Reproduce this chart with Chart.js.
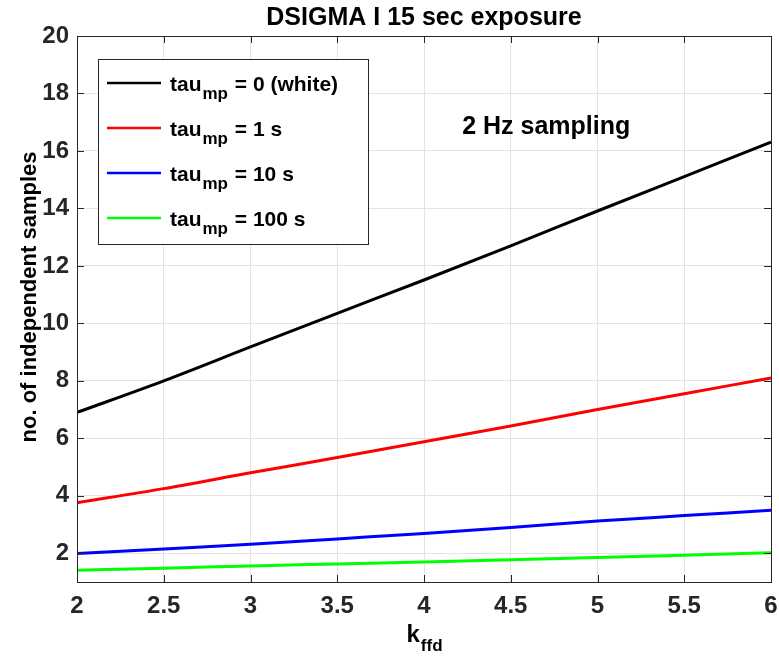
<!DOCTYPE html>
<html>
<head>
<meta charset="utf-8">
<script src="https://cdn.jsdelivr.net/npm/chart.js@4"></script>
<style>
  html, body { margin: 0; padding: 0; background: #fff; }
  #wrap { width: 779px; height: 659px; }
</style>
</head>
<body>
<div id="wrap"><canvas id="chart"></canvas></div>
<script>
// data
const kffd = [2, 2.5, 3, 3.5, 4, 4.5, 5, 5.5, 6];
const tauWhite = [6.9, 8.0, 9.18, 10.35, 11.51, 12.7, 13.91, 15.11, 16.31];
const tau1 = [3.76, 4.25, 4.8, 5.33, 5.88, 6.43, 7.0, 7.55, 8.1];
const tau10 = [1.99, 2.15, 2.31, 2.5, 2.69, 2.9, 3.12, 3.31, 3.5];
const tau100 = [1.41, 1.48, 1.56, 1.63, 1.7, 1.77, 1.85, 1.93, 2.02];
const yTicks = [2, 4, 6, 8, 10, 12, 14, 16, 18, 20];
const seriesNames = ['tau_mp = 0 (white)', 'tau_mp = 1 s', 'tau_mp = 10 s', 'tau_mp = 100 s'];
const seriesColors = ['#000000', '#ff0000', '#0000ff', '#00ff00'];
const titleText = 'DSIGMA I 15 sec exposure';
const yTitle = 'no. of independent samples';
const xTitle = 'k_ffd';
const note = { text: '2 Hz sampling', x: 4.22, y: 16.6 };

const FONT = '"Liberation Sans", Arial, Helvetica, sans-serif';
const AXIS = '#262626';

function pts(ys) {
  return kffd.map((x, i) => ({ x: x, y: ys[i] }));
}

// text with a subscript, written "base_sub rest"
function drawSub(ctx, str, x, y, size, subSize, align) {
  const m = str.match(/^(\S+?)_(\S+)(.*)$/);
  const base = m ? m[1] : str, sub = m ? m[2] : '', rest = m ? m[3] : '';
  ctx.font = 'bold ' + size + 'px ' + FONT;
  const wb = ctx.measureText(base).width;
  const wr = ctx.measureText(rest).width;
  ctx.font = 'bold ' + subSize + 'px ' + FONT;
  const ws = ctx.measureText(sub).width;
  let x0 = x;
  if (align === 'center') x0 = x - (wb + ws + wr) / 2;
  ctx.textAlign = 'left';
  ctx.textBaseline = 'alphabetic';
  ctx.font = 'bold ' + size + 'px ' + FONT;
  ctx.fillText(base, x0, y);
  ctx.font = 'bold ' + subSize + 'px ' + FONT;
  ctx.fillText(sub, x0 + wb + 1, y + size * 0.38);
  ctx.font = 'bold ' + size + 'px ' + FONT;
  ctx.fillText(rest, x0 + wb + ws + 2, y);
}

const decorations = {
  id: 'decorations',
  afterDatasetsDraw(chart) {
    const ctx = chart.ctx;
    const a = chart.chartArea;
    const xs = chart.scales.x, ys = chart.scales.y;
    ctx.save();

    // tick marks pointing inward, MATLAB style
    ctx.strokeStyle = AXIS;
    ctx.lineWidth = 1;
    ctx.beginPath();
    xs.ticks.forEach(t => {
      const px = Math.round(xs.getPixelForValue(t.value)) + 0.5;
      ctx.moveTo(px, a.bottom); ctx.lineTo(px, a.bottom - 7);
      ctx.moveTo(px, a.top); ctx.lineTo(px, a.top + 7);
    });
    ys.ticks.forEach(t => {
      const py = Math.round(ys.getPixelForValue(t.value)) + 0.5;
      ctx.moveTo(a.left, py); ctx.lineTo(a.left + 7, py);
      ctx.moveTo(a.right, py); ctx.lineTo(a.right - 7, py);
    });
    ctx.stroke();
    ctx.strokeRect(Math.round(a.left) + 0.5, Math.round(a.top) + 0.5,
      Math.round(a.right - a.left), Math.round(a.bottom - a.top));

    // note
    ctx.fillStyle = '#000';
    ctx.font = 'bold 25px ' + FONT;
    ctx.textAlign = 'left';
    ctx.textBaseline = 'alphabetic';
    ctx.fillText(note.text, xs.getPixelForValue(note.x), ys.getPixelForValue(note.y));

    // legend
    const bx = a.left + 21, by = a.top + 23, bw = 270, bh = 185;
    ctx.fillStyle = '#fff';
    ctx.fillRect(bx, by, bw, bh);
    ctx.strokeStyle = AXIS;
    ctx.lineWidth = 1;
    ctx.strokeRect(bx + 0.5, by + 0.5, bw, bh);
    seriesNames.forEach((name, i) => {
      const ly = by + 24 + i * 45;
      ctx.strokeStyle = seriesColors[i];
      ctx.lineWidth = 2.5;
      ctx.beginPath();
      ctx.moveTo(bx + 9, ly); ctx.lineTo(bx + 63, ly);
      ctx.stroke();
      ctx.fillStyle = '#000';
      drawSub(ctx, name, bx + 72, ly + 8, 21, 17, 'left');
    });

    // titles
    ctx.fillStyle = '#000';
    ctx.font = 'bold 25px ' + FONT;
    ctx.textAlign = 'center';
    ctx.fillText(titleText, (a.left + a.right) / 2, 25);

    drawSub(ctx, xTitle, (a.left + a.right) / 2, 642, 24, 17, 'center');

    ctx.translate(30, (a.top + a.bottom) / 2 - 12);
    ctx.rotate(-Math.PI / 2);
    ctx.font = 'bold 22px ' + FONT;
    ctx.textAlign = 'center';
    ctx.textBaseline = 'middle';
    ctx.fillText(yTitle, 0, 0);
    ctx.restore();
  }
};

const datasets = [tauWhite, tau1, tau10, tau100].map((ys, i) => ({
  label: seriesNames[i],
  data: pts(ys),
  borderColor: seriesColors[i],
  backgroundColor: seriesColors[i],
  borderWidth: 3,
  pointRadius: 0,
  cubicInterpolationMode: 'monotone',
  fill: false
}));

new Chart(document.getElementById('chart'), {
  type: 'line',
  data: { datasets: datasets },
  options: {
    responsive: true,
    maintainAspectRatio: false,
    animation: false,
    layout: { padding: { top: 36, right: 8, left: 0, bottom: 0 } },
    plugins: {
      legend: { display: false },
      title: { display: false },
      tooltip: { enabled: false }
    },
    scales: {
      x: {
        type: 'linear',
        min: 2,
        max: 6,
        ticks: {
          stepSize: 0.5,
          color: AXIS,
          padding: 10,
          font: { family: FONT, size: 24, weight: 'bold' },
          maxRotation: 0,
          callback: v => String(v)
        },
        grid: { color: '#e3e3e3', drawTicks: false },
        border: { display: false },
        afterFit(scale) {
          scale.height = 77;
          scale.paddingLeft = 0;
          scale.paddingRight = 0;
        }
      },
      y: {
        type: 'linear',
        min: 1,
        max: 20,
        afterBuildTicks(scale) { scale.ticks = yTicks.map(v => ({ value: v })); },
        ticks: {
          color: AXIS,
          padding: 8,
          font: { family: FONT, size: 24, weight: 'bold' }
        },
        grid: { color: '#e3e3e3', drawTicks: false },
        border: { display: false },
        afterFit(scale) {
          scale.width = 77;
          scale.paddingTop = 0;
          scale.paddingBottom = 0;
        }
      }
    }
  },
  plugins: [decorations]
});
</script>
</body>
</html>
